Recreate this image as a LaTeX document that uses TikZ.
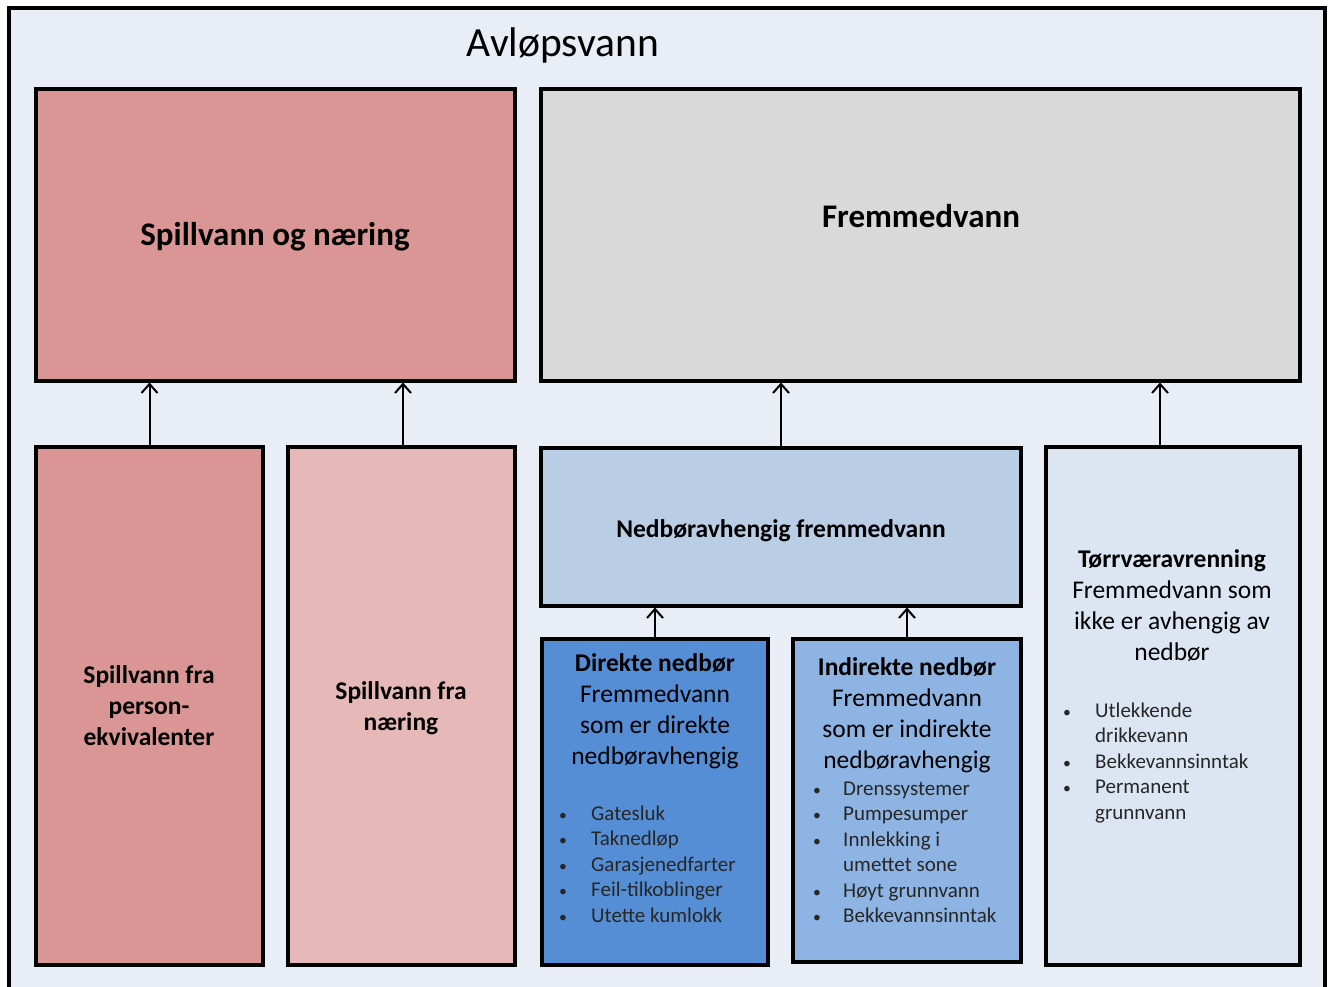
\documentclass[tikz,border=0pt]{standalone}
\usepackage{fontspec}
\setmainfont{Carlito}
\usetikzlibrary{arrows.meta,shadows}
\definecolor{bg}{RGB}{233,237,246}
\definecolor{redA}{RGB}{218,150,148}
\definecolor{redB}{RGB}{230,184,183}
\definecolor{grayA}{RGB}{217,217,217}
\definecolor{blueA}{RGB}{185,205,229}
\definecolor{blueB}{RGB}{85,142,213}
\definecolor{blueC}{RGB}{142,180,227}
\definecolor{blueD}{RGB}{220,230,242}
\definecolor{listtext}{RGB}{38,38,38}
\newcommand{\bul}{\scalebox{0.75}{\textbullet}}
\tikzset{
  box/.style={draw=black, line width=3.5pt, anchor=north west, inner sep=0pt, outer sep=0pt,
    drop shadow={shadow xshift=1pt, shadow yshift=-2pt, opacity=0.35, fill=black}},
  txt/.style={anchor=base, inner sep=0pt, font=\fontsize{25.5}{31}\selectfont},
  big/.style={anchor=base, inner sep=0pt, font=\fontsize{33}{39}\selectfont\bfseries},
  lst/.style={anchor=base west, inner sep=0pt, text=listtext, font=\fontsize{21}{25.5}\selectfont},
  arr/.style={line width=2pt, shorten >=1.5pt, -{Straight Barb[length=9pt,width=16pt,line width=2pt]}},
}
\begin{document}
\begin{tikzpicture}[x=1pt,y=-1pt]
\useasboundingbox (0,0) rectangle (1330,987);
% outer frame
\node[draw=black, line width=4pt, fill=bg, anchor=north west, inner sep=0pt, outer sep=0pt,
      minimum width=1316pt, minimum height=1010pt] (frame) at (9,8) {};
\node[anchor=base, inner sep=0pt, font=\fontsize{41.5}{48}\selectfont] (title) at (563,57) {Avløpsvann};

% top boxes
\node[box, fill=redA, minimum width=479pt, minimum height=292pt] (SON) at (36,89) {};
\node[box, fill=grayA, minimum width=759pt, minimum height=292pt] (FV) at (541,89) {};
\node[big] (tSON) at (275,245) {Spillvann og næring};
\node[big] (tFV) at (921,228) {Fremmedvann};

% lower boxes
\node[box, fill=redA, minimum width=227pt, minimum height=518pt] (P) at (36,447) {};
\node[box, fill=redB, minimum width=227pt, minimum height=518pt] (N) at (288,447) {};
\node[box, fill=blueA, minimum width=480pt, minimum height=158pt] (NF) at (541,448) {};
\node[box, fill=blueB, minimum width=226pt, minimum height=326pt] (D) at (542,639) {};
\node[box, fill=blueC, minimum width=228pt, minimum height=323pt] (I) at (793,639) {};
\node[box, fill=blueD, minimum width=254pt, minimum height=518pt] (T) at (1046,447) {};

% texts
\node[txt, font=\fontsize{25.5}{31}\selectfont\bfseries] (tP) at (149,683)
  {\begin{tabular}[t]{@{}c@{}}Spillvann fra\\ person-\\ ekvivalenter\end{tabular}};
\node[txt, font=\fontsize{25.5}{31}\selectfont\bfseries] (tN) at (401,699)
  {\begin{tabular}[t]{@{}c@{}}Spillvann fra\\ næring\end{tabular}};
\node[txt, font=\fontsize{25.5}{31}\selectfont\bfseries] (tNF) at (781,537) {Nedbøravhengig fremmedvann};

\node[txt] (tD) at (655,671)
  {\begin{tabular}[t]{@{}c@{}}\textbf{Direkte nedbør}\\ Fremmedvann\\ som er direkte\\ nedbøravhengig\end{tabular}};
\node[lst] (lD) at (559,820)
  {\begin{tabular}[t]{@{}p{32pt}@{}l@{}}\bul & Gatesluk\\ \bul & Taknedløp\\ \bul & Garasjenedfarter\\ \bul & Feil-tilkoblinger\\ \bul & Utette kumlokk\end{tabular}};

\node[txt] (tI) at (907,675)
  {\begin{tabular}[t]{@{}c@{}}\textbf{Indirekte nedbør}\\ Fremmedvann\\ som er indirekte\\ nedbøravhengig\end{tabular}};
\node[lst] (lI) at (813,795)
  {\begin{tabular}[t]{@{}p{30pt}@{}l@{}}\bul & Drenssystemer\\ \bul & Pumpesumper\\ \bul & Innlekking i\\ & umettet sone\\ \bul & Høyt grunnvann\\ \bul & Bekkevannsinntak\end{tabular}};

\node[txt] (tT) at (1172,567)
  {\begin{tabular}[t]{@{}c@{}}\textbf{Tørrværavrenning}\\ Fremmedvann som\\ ikke er avhengig av\\ nedbør\end{tabular}};
\node[lst] (lT) at (1063,717)
  {\begin{tabular}[t]{@{}p{32pt}@{}l@{}}\bul & Utlekkende\\ & drikkevann\\ \bul & Bekkevannsinntak\\ \bul & Permanent\\ & grunnvann\end{tabular}};

% arrows
\draw[arr] (P.north) -- (P.north |- SON.south);
\draw[arr] ([xshift=1.5pt]N.north) -- ([xshift=1.5pt]N.north |- SON.south);
\draw[arr] (NF.north) -- (NF.north |- FV.south);
\draw[arr] ([xshift=-13pt]T.north) -- ([xshift=-13pt]T.north |- FV.south);
\draw[arr] (D.north) -- (D.north |- NF.south);
\draw[arr] (I.north) -- (I.north |- NF.south);
\end{tikzpicture}
\end{document}
